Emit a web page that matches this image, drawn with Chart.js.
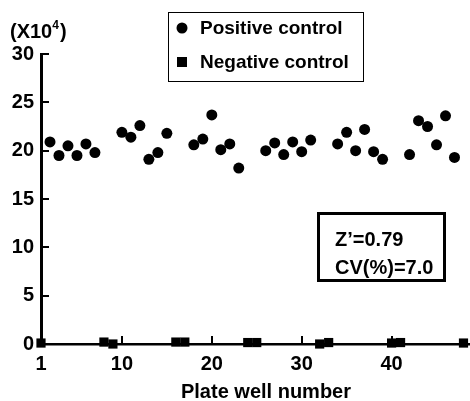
<!DOCTYPE html>
<html>
<head>
<meta charset="utf-8">
<script src="https://cdn.jsdelivr.net/npm/chart.js@4"></script>
<style>
  html, body { margin: 0; padding: 0; background: #fff; overflow: hidden; }
  #wrap { width: 470px; height: 401px; position: relative; overflow: hidden; }
</style>
</head>
<body>
<div id="wrap"><canvas id="plateChart" width="477" height="401"></canvas></div>
<script>
// Plate well numbers and signals (x10^4)
const positiveWells = [2, 3, 4, 5, 6, 7, 10, 11, 12, 13, 14, 15, 18, 19, 20, 21, 22, 23,
    26, 27, 28, 29, 30, 31, 34, 35, 36, 37, 38, 39, 42, 43, 44, 45, 46, 47];
const positiveValues = [20.9, 19.5, 20.5, 19.5, 20.7, 19.8, 21.9, 21.4, 22.6, 19.1, 19.8, 21.8,
    20.6, 21.2, 23.7, 20.1, 20.7, 18.2, 20.0, 20.8, 19.6, 20.9, 19.9, 21.1,
    20.7, 21.9, 20.0, 22.2, 19.9, 19.1, 19.6, 23.1, 22.5, 20.6, 23.6, 19.3];
const negativeWells = [1, 8, 9, 16, 17, 24, 25, 32, 33, 40, 41, 48];
const negativeValues = [0.1, 0.2, 0.0, 0.2, 0.2, 0.15, 0.15, 0.0, 0.15, 0.1, 0.15, 0.1];
const xTickValues = [1, 10, 20, 30, 40];
const yTickValues = [0, 5, 10, 15, 20, 25, 30];

const FONT = '"Liberation Sans", Arial, sans-serif';

function toPoints(xs, ys) {
    return xs.map((x, i) => ({ x: x, y: ys[i] }));
}

// Draws inward tick marks, legend box, Z' box and axis labels
const extrasPlugin = {
    id: 'extras',
    beforeDatasetsDraw(chart) {
        const ctx = chart.ctx;
        const xs = chart.scales.x, ys = chart.scales.y;
        const area = chart.chartArea;
        ctx.save();
        ctx.strokeStyle = '#000';
        ctx.lineWidth = 2;
        yTickValues.forEach(v => {
            if (v === 0) return;
            const py = Math.round(ys.getPixelForValue(v));
            ctx.beginPath();
            ctx.moveTo(area.left, py);
            ctx.lineTo(area.left + 8, py);
            ctx.stroke();
        });
        xTickValues.forEach(v => {
            if (v === 1) return;
            const px = Math.round(xs.getPixelForValue(v));
            ctx.beginPath();
            ctx.moveTo(px, area.bottom);
            ctx.lineTo(px, area.bottom - 8);
            ctx.stroke();
        });
        ctx.restore();
    },
    afterDraw(chart) {
        const ctx = chart.ctx;
        ctx.save();
        ctx.fillStyle = '#000';
        ctx.strokeStyle = '#000';

        // legend
        ctx.lineWidth = 1;
        ctx.strokeRect(168.5, 12.5, 195, 69);
        ctx.beginPath();
        ctx.arc(182, 28, 5.5, 0, Math.PI * 2);
        ctx.fill();
        ctx.fillRect(177, 57, 10, 10);
        ctx.font = 'bold 19px ' + FONT;
        ctx.textAlign = 'left';
        ctx.textBaseline = 'middle';
        ctx.fillText('Positive control', 200, 29);
        ctx.fillText('Negative control', 200, 63);

        // Z' / CV box
        ctx.lineWidth = 3;
        ctx.strokeRect(318.5, 213.5, 126, 67);
        ctx.font = 'bold 20px ' + FONT;
        ctx.fillText('Z\u2019=0.79', 335, 240);
        ctx.fillText('CV(%)=7.0', 335, 268);

        // unit label
        ctx.font = 'bold 20px ' + FONT;
        ctx.fillText('(X10', 10, 32);
        let w = ctx.measureText('(X10').width;
        ctx.font = 'bold 12px ' + FONT;
        ctx.fillText('4', 10 + w, 26);
        w += ctx.measureText('4').width;
        ctx.font = 'bold 20px ' + FONT;
        ctx.fillText(')', 10 + w + 1, 32);

        // x axis title
        ctx.textAlign = 'center';
        ctx.fillText('Plate well number', 266, 392);
        ctx.restore();
    }
};

const ctx = document.getElementById('plateChart').getContext('2d');
new Chart(ctx, {
    type: 'scatter',
    data: {
        datasets: [{
            label: 'Positive control',
            data: toPoints(positiveWells, positiveValues),
            pointStyle: 'circle',
            pointRadius: 5.5,
            pointHoverRadius: 5.5,
            backgroundColor: '#000',
            borderColor: '#000',
            borderWidth: 0,
            clip: false
        }, {
            label: 'Negative control',
            data: toPoints(negativeWells, negativeValues),
            pointStyle: 'rect',
            pointRadius: 6.5,
            pointHoverRadius: 6.5,
            backgroundColor: '#000',
            borderColor: '#000',
            borderWidth: 0,
            clip: false
        }]
    },
    options: {
        responsive: false,
        animation: false,
        events: [],
        layout: { padding: { top: 54, right: 0, bottom: 0, left: 0 } },
        plugins: {
            legend: { display: false },
            tooltip: { enabled: false }
        },
        scales: {
            x: {
                type: 'linear',
                min: 1,
                max: 48.78,
                afterFit(scale) { scale.height = 57; },
                afterBuildTicks(scale) {
                    scale.ticks = xTickValues.map(v => ({ value: v }));
                },
                grid: { display: false, drawTicks: false },
                border: { display: true, color: '#000', width: 2.5 },
                ticks: {
                    color: '#000',
                    padding: 8,
                    maxRotation: 0,
                    autoSkip: false,
                    font: { family: FONT, size: 20, weight: 'bold' }
                }
            },
            y: {
                type: 'linear',
                min: 0,
                max: 30,
                afterFit(scale) { scale.width = 41; },
                afterBuildTicks(scale) {
                    scale.ticks = yTickValues.map(v => ({ value: v }));
                },
                grid: { display: false, drawTicks: false },
                border: { display: true, color: '#000', width: 3 },
                ticks: {
                    color: '#000',
                    padding: 7,
                    font: { family: FONT, size: 20, weight: 'bold' }
                }
            }
        }
    },
    plugins: [extrasPlugin]
});
</script>
</body>
</html>
